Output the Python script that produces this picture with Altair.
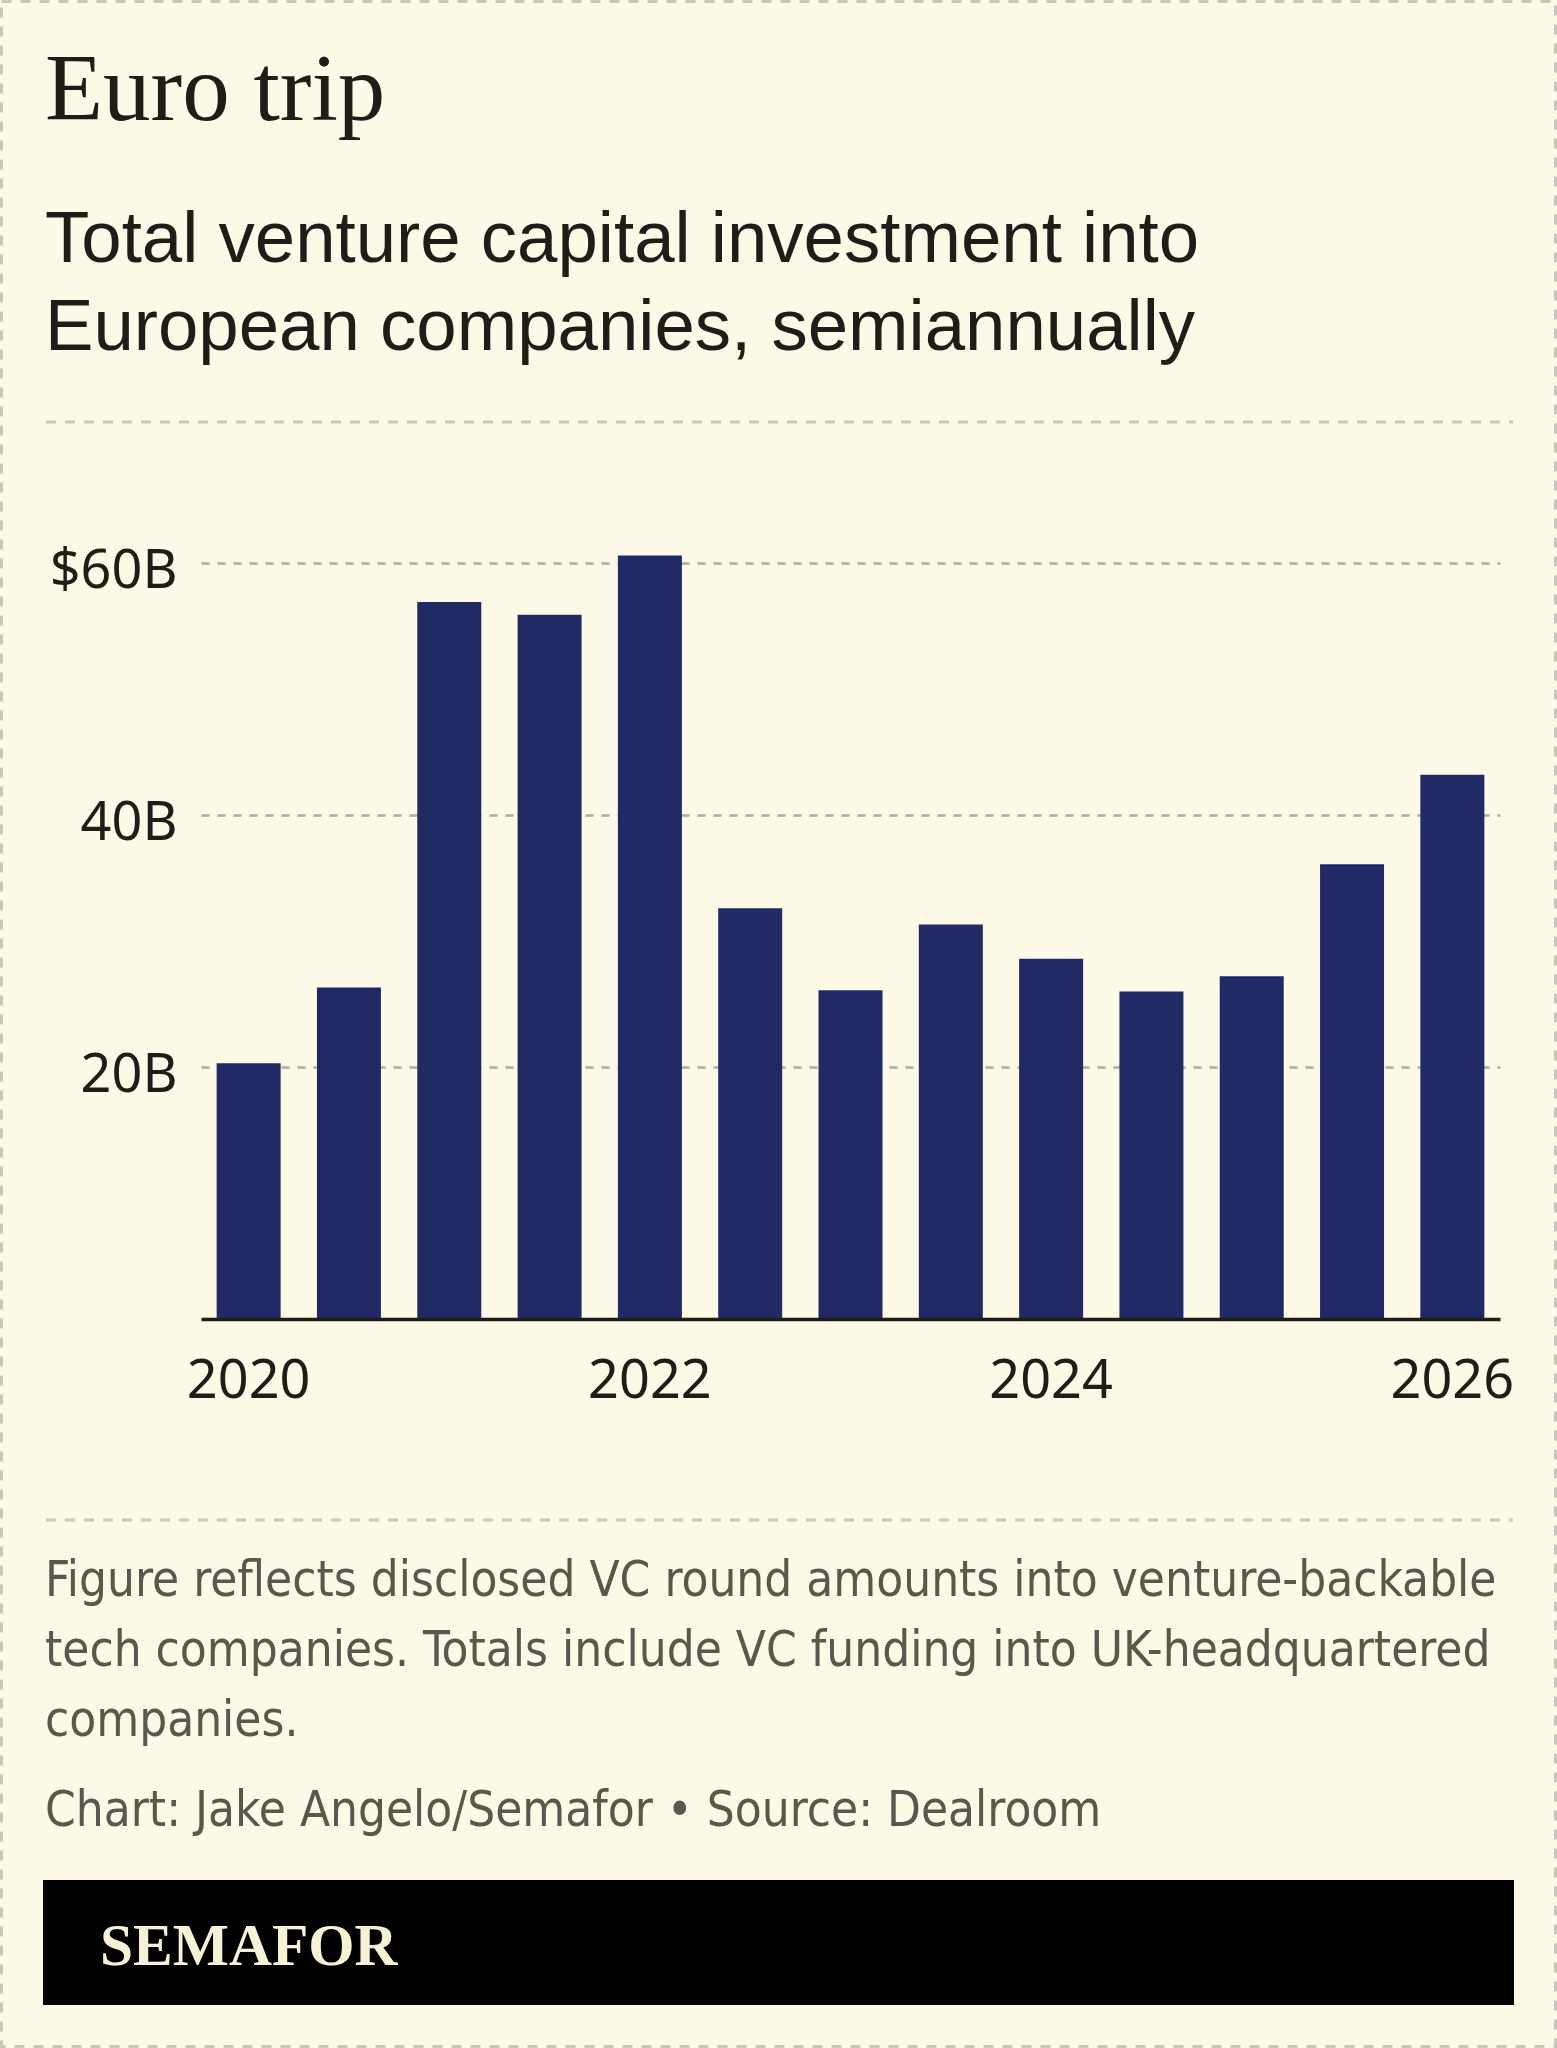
import altair as alt
import pandas as pd

# Half-year periods and total VC investment (US$ billions)
periods = [
    "2020 H1", "2020 H2", "2021 H1", "2021 H2", "2022 H1", "2022 H2", "2023 H1",
    "2023 H2", "2024 H1", "2024 H2", "2025 H1", "2025 H2", "2026 H1",
]
investment_bn = [20.3, 26.3, 56.9, 55.9, 60.6, 32.6, 26.1, 31.3, 28.6, 26.0, 27.2, 36.1, 43.2]
labelled_periods = ["2020 H1", "2022 H1", "2024 H1", "2026 H1"]
y_ticks = [20, 40, 60]

title_text = "Euro trip"
subtitle_lines = ["Total venture capital investment into", "European companies, semiannually"]
note_lines = [
    "Figure reflects disclosed VC round amounts into venture-backable",
    "tech companies. Totals include VC funding into UK-headquartered",
    "companies.",
]
credit_text = "Chart: Jake Angelo/Semafor \u2022 Source: Dealroom"
brand_text = "SEMAFOR"

BG = "#FCF9E7"
NAVY = "#212A65"
INK = "#1F1D18"
NOTE_INK = "#5A574E"
GRID = "#ADAA9E"
RULE = "#CBC7BB"
CREAM = "#F7F1D5"

SERIF = "Liberation Serif"
SANS = "Liberation Sans"
AXIS_FONT = "Noto Sans"
NARROW = "Liberation Sans Narrow, DejaVu Sans Condensed, Liberation Sans"

PLOT_W, PLOT_H = 1299, 756

df = pd.DataFrame({"period": periods, "value": investment_bn})

bars = alt.Chart(df).mark_bar(color=NAVY).encode(
    x=alt.X(
        "period:N",
        sort=periods,
        scale=alt.Scale(paddingInner=0.362, paddingOuter=0.156),
        axis=alt.Axis(
            values=labelled_periods,
            labelExpr="slice(datum.label, 0, 4)",
            title=None,
            labelAngle=0,
            ticks=False,
            tickSize=0,
            grid=False,
            domainColor=INK,
            domainWidth=3.5,
            labelFont=AXIS_FONT,
            labelFontSize=54,
            labelColor=INK,
            labelBaseline="alphabetic",
            labelPadding=78,
            zindex=1,
        ),
    ),
    y=alt.Y(
        "value:Q",
        scale=alt.Scale(domain=[0, 60], nice=False),
        axis=alt.Axis(
            values=y_ticks,
            labelExpr="datum.value == 60 ? '$60B' : datum.value + 'B'",
            title=None,
            domain=False,
            ticks=False,
            tickSize=0,
            grid=True,
            gridDash=[8, 8],
            gridColor=GRID,
            gridWidth=2.5,
            labelFont=AXIS_FONT,
            labelFontSize=54,
            labelColor=INK,
            labelBaseline="alphabetic",
            labelOffset=24,
            labelPadding=24,
        ),
    ),
)

one = alt.Data(values=[{}])


def text_block(text, x, y, **style):
    return alt.Chart(one).mark_text(
        text=text, align="left", baseline="alphabetic", **style
    ).encode(x=alt.value(x), y=alt.value(y))


def dashed_rule(y):
    return alt.Chart(one).mark_rule(
        color=RULE, strokeWidth=3, strokeDash=[10, 9]
    ).encode(x=alt.value(-155), x2=alt.value(1312), y=alt.value(y))


title = text_block(title_text, -156, -443, font=SERIF, fontSize=95, color=INK)
subtitle = text_block(subtitle_lines, -156, -301, font=SANS, fontSize=72.6,
                      color=INK, lineHeight=88)
notes = text_block(note_lines, -156, 1033, font=NARROW, fontSize=49,
                   color=NOTE_INK, lineHeight=70)
credit = text_block(credit_text, -156, 1263, font=NARROW, fontSize=49, color=NOTE_INK)

brand_box = alt.Chart(one).mark_rect(color="#000000").encode(
    x=alt.value(-158), x2=alt.value(1313), y=alt.value(1317), y2=alt.value(1442)
)
brand = text_block(brand_text, -101, 1402, font=SERIF, fontSize=59.5,
                   fontWeight="bold", color=CREAM)

frame = alt.Chart(one).mark_rect(
    fillOpacity=0, stroke="#C9C6BC", strokeWidth=3, strokeDash=[10, 9]
).encode(
    x=alt.value(-199.5), x2=alt.value(1354.5), y=alt.value(-561.5), y2=alt.value(1483.5)
)

chart = alt.layer(
    bars, title, subtitle, dashed_rule(-141), dashed_rule(957),
    notes, credit, brand_box, brand, frame,
).properties(
    width=PLOT_W,
    height=PLOT_H,
    padding={"left": 201, "top": 563, "right": 57, "bottom": 729},
    autosize=alt.AutoSizeParams(type="none"),
    background=BG,
).configure_view(stroke=None)

chart.save("out.html", embed_options={"renderer": "svg", "actions": False})
